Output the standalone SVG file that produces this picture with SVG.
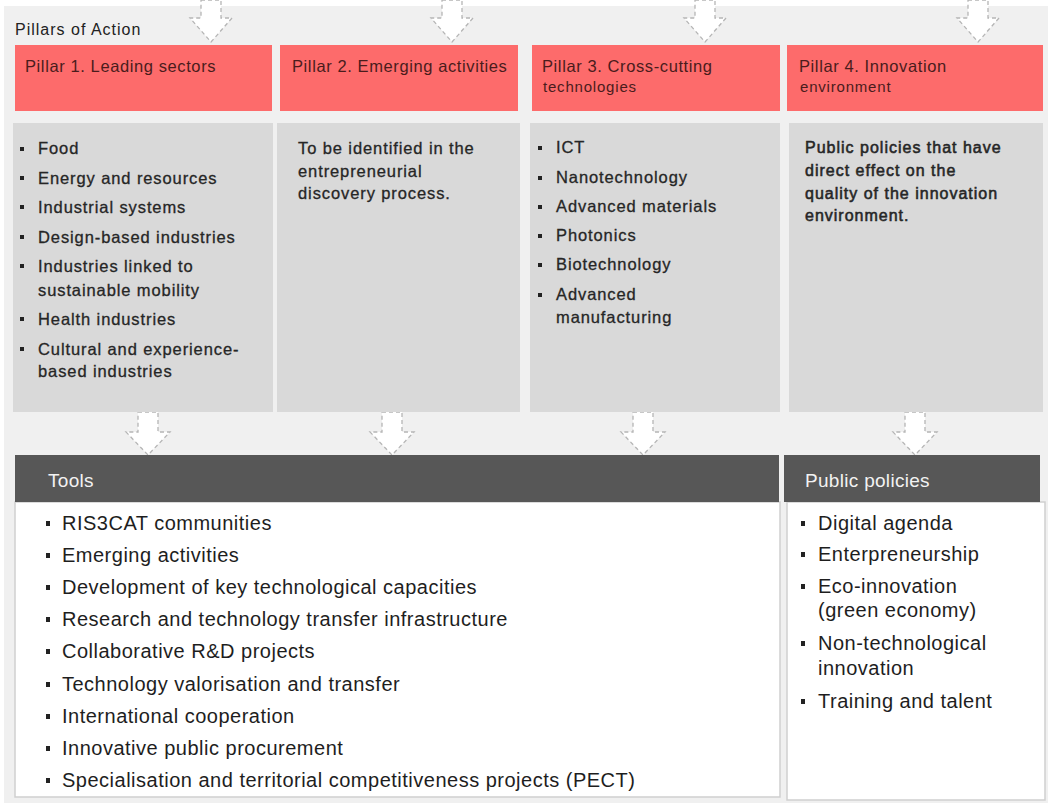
<svg xmlns="http://www.w3.org/2000/svg" width="1050" height="803" viewBox="0 0 1050 803">
<style>
text{font-family:"Liberation Sans",Arial,sans-serif}
.hdr{fill:#fd6b6b}
.body{fill:#d9d9d9}
.ht{font-size:16.5px;fill:#4a1c1c;letter-spacing:0.6px}
.ht2{font-size:15px;fill:#4a1c1c;letter-spacing:0.8px}
.bt{font-size:16.5px;fill:#262626;letter-spacing:0.9px;stroke:#262626;stroke-width:0.3}
.bt4{font-size:16px;fill:#262626;letter-spacing:1px;stroke:#262626;stroke-width:0.55}
.dk{fill:#575757}
.wt{fill:#ffffff;stroke:#cfcfcf;stroke-width:1.5}
.dt{font-size:19px;fill:#f2f2f2;letter-spacing:0.3px}
.lt{font-size:20px;fill:#1e1e1e;letter-spacing:0.5px}
.blt{fill:#222}
.arr{fill:#ffffff;stroke:#b5b5b5;stroke-width:1.3;stroke-dasharray:4 3}
</style>
<rect x="0" y="0" width="1050" height="803" fill="#ffffff"/>
<rect x="4" y="6" width="1044" height="797" fill="#f0f0f0"/>
<text x="15" y="35" style="font-size:16px;fill:#222;letter-spacing:1px">Pillars of Action</text>

<g id="connectors">
<polygon class="arr" points="201,0 221,0 221,18 232,18 211,42 190,18 201,18"/>
<polygon class="arr" points="442,0 462,0 462,18 473,18 452,42 431,18 442,18"/>
<polygon class="arr" points="695,0 715,0 715,18 726,18 705,42 684,18 695,18"/>
<polygon class="arr" points="968,0 988,0 988,18 999,18 978,42 957,18 968,18"/>
<polygon class="arr" points="138,412 158,412 158,432 170,432 148,455 126,432 138,432"/>
<polygon class="arr" points="382,412 402,412 402,432 414,432 392,455 370,432 382,432"/>
<polygon class="arr" points="633,412 653,412 653,432 665,432 643,455 621,432 633,432"/>
<polygon class="arr" points="905,412 925,412 925,432 937,432 915,455 893,432 905,432"/>
</g>

<g id="pillar1">
<rect class="hdr" x="15" y="45" width="257" height="66"/>
<text class="ht" x="25" y="72">Pillar 1. Leading sectors</text>
<rect class="body" x="13" y="123" width="260" height="289"/>
<g class="blt">
<rect x="20" y="147" width="4" height="4"/><rect x="20" y="176" width="4" height="4"/><rect x="20" y="205" width="4" height="4"/><rect x="20" y="235" width="4" height="4"/><rect x="20" y="264" width="4" height="4"/><rect x="20" y="317" width="4" height="4"/><rect x="20" y="347" width="4" height="4"/>
</g>
<text class="bt" x="38" y="154">Food</text>
<text class="bt" x="38" y="184">Energy and resources</text>
<text class="bt" x="38" y="213">Industrial systems</text>
<text class="bt" x="38" y="243">Design-based industries</text>
<text class="bt" x="38" y="272">Industries linked to</text>
<text class="bt" x="38" y="296">sustainable mobility</text>
<text class="bt" x="38" y="325">Health industries</text>
<text class="bt" x="38" y="355">Cultural and experience-</text>
<text class="bt" x="38" y="377">based industries</text>
</g>

<g id="pillar2">
<rect class="hdr" x="280" y="45" width="238" height="66"/>
<text class="ht" x="292" y="72">Pillar 2. Emerging activities</text>
<rect class="body" x="277" y="123" width="243" height="289"/>
<text class="bt" x="298" y="154">To be identified in the</text>
<text class="bt" x="298" y="177">entrepreneurial</text>
<text class="bt" x="298" y="199">discovery process.</text>
</g>

<g id="pillar3">
<rect class="hdr" x="532" y="45" width="248" height="66"/>
<text class="ht" x="542" y="72">Pillar 3. Cross-cutting</text>
<text class="ht2" x="543" y="92">technologies</text>
<rect class="body" x="530" y="123" width="250" height="289"/>
<g class="blt">
<rect x="538" y="146" width="4" height="4"/><rect x="538" y="176" width="4" height="4"/><rect x="538" y="205" width="4" height="4"/><rect x="538" y="234" width="4" height="4"/><rect x="538" y="263" width="4" height="4"/><rect x="538" y="293" width="4" height="4"/>
</g>
<text class="bt" x="556" y="153">ICT</text>
<text class="bt" x="556" y="183">Nanotechnology</text>
<text class="bt" x="556" y="212">Advanced materials</text>
<text class="bt" x="556" y="241">Photonics</text>
<text class="bt" x="556" y="270">Biotechnology</text>
<text class="bt" x="556" y="300">Advanced</text>
<text class="bt" x="556" y="323">manufacturing</text>
</g>

<g id="pillar4">
<rect class="hdr" x="787" y="45" width="256" height="66"/>
<text class="ht" x="799" y="72">Pillar 4. Innovation</text>
<text class="ht2" x="800" y="92">environment</text>
<rect class="body" x="789" y="123" width="254" height="289"/>
<text class="bt4" x="805" y="153">Public policies that have</text>
<text class="bt4" x="805" y="176">direct effect on the</text>
<text class="bt4" x="805" y="199">quality of the innovation</text>
<text class="bt4" x="805" y="221">environment.</text>
</g>

<g id="tools">
<rect class="wt" x="15" y="502" width="765" height="295"/>
<rect class="dk" x="15" y="455" width="764" height="47"/>
<text class="dt" x="48" y="487">Tools</text>
<g class="blt">
<rect x="46" y="521" width="4" height="5"/><rect x="46" y="553" width="4" height="5"/><rect x="46" y="585" width="4" height="5"/><rect x="46" y="617" width="4" height="5"/><rect x="46" y="649" width="4" height="5"/><rect x="46" y="682" width="4" height="5"/><rect x="46" y="714" width="4" height="5"/><rect x="46" y="746" width="4" height="5"/><rect x="46" y="778" width="4" height="5"/>
</g>
<text class="lt" x="62" y="530">RIS3CAT communities</text>
<text class="lt" x="62" y="562">Emerging activities</text>
<text class="lt" x="62" y="594">Development of key technological capacities</text>
<text class="lt" x="62" y="626">Research and technology transfer infrastructure</text>
<text class="lt" x="62" y="658">Collaborative R&amp;D projects</text>
<text class="lt" x="62" y="691">Technology valorisation and transfer</text>
<text class="lt" x="62" y="723">International cooperation</text>
<text class="lt" x="62" y="755">Innovative public procurement</text>
<text class="lt" x="62" y="787">Specialisation and territorial competitiveness projects (PECT)</text>
</g>

<g id="public-policies">
<rect class="wt" x="787" y="502" width="258" height="298"/>
<rect class="dk" x="784" y="455" width="256" height="47"/>
<text class="dt" x="805" y="487">Public policies</text>
<g class="blt">
<rect x="801" y="521" width="4" height="5"/><rect x="801" y="552" width="4" height="5"/><rect x="801" y="584" width="4" height="5"/><rect x="801" y="641" width="4" height="5"/><rect x="801" y="699" width="4" height="5"/>
</g>
<text class="lt" x="818" y="530">Digital agenda</text>
<text class="lt" x="818" y="561">Enterpreneurship</text>
<text class="lt" x="818" y="593">Eco-innovation</text>
<text class="lt" x="818" y="617">(green economy)</text>
<text class="lt" x="818" y="650">Non-technological</text>
<text class="lt" x="818" y="675">innovation</text>
<text class="lt" x="818" y="708">Training and talent</text>
</g>
</svg>
